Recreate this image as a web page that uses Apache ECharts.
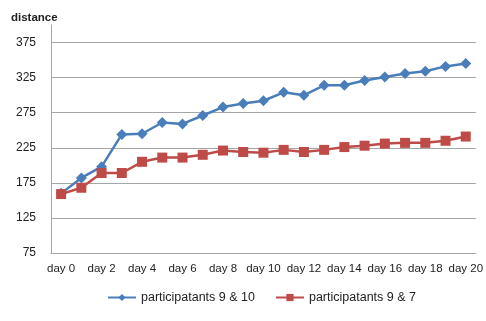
<!DOCTYPE html>
<html>
<head>
<meta charset="utf-8">
<style>
  html, body { margin: 0; padding: 0; background: #fff; }
  #chart { width: 486px; height: 321px; }
</style>
<script src="https://cdn.jsdelivr.net/npm/echarts@6/dist/echarts.min.js"></script>
</head>
<body>
<div id="chart"></div>
<script>
// Days on the x axis
const days = ['day 0','day 1','day 2','day 3','day 4','day 5','day 6','day 7','day 8','day 9','day 10',
              'day 11','day 12','day 13','day 14','day 15','day 16','day 17','day 18','day 19','day 20'];

// Distance covered by each pair of participants
const pair9and10 = [160, 182, 198, 244, 245, 261, 259, 271, 283, 288, 292, 304, 300, 314, 314, 321, 326, 331, 334, 341, 345];
const pair9and7  = [159, 168, 189, 189, 205, 211, 211, 215, 221, 219, 218, 222, 219, 222, 226, 228, 231, 232, 232, 235, 241];

const seriesNames = ['participatants 9 & 10', 'participatants 9 & 7'];
const yTitle = 'distance';

const font = 'Liberation Sans, Arial, sans-serif';
const chart = echarts.init(document.getElementById('chart'), null, { renderer: 'canvas' });

chart.setOption({
  animation: false,
  backgroundColor: '#fff',
  title: {
    text: yTitle,
    left: 6, top: 7,
    textStyle: { fontFamily: font, fontSize: 11.5, fontWeight: 'bold', color: '#222' }
  },
  grid: { left: 51, right: 9, top: 25, bottom: 68 },
  legend: {
    bottom: 12,
    left: 102,
    itemWidth: 28,
    itemHeight: 9,
    itemGap: 20,
    textStyle: { fontFamily: font, fontSize: 12.5, color: '#222' },
    data: seriesNames
  },
  xAxis: {
    type: 'category',
    data: days,
    boundaryGap: true,
    axisLine: { lineStyle: { color: '#a6a6a6', width: 1 } },
    axisTick: { show: false },
    axisLabel: { interval: 1, margin: 10, fontFamily: font, fontSize: 11.5, color: '#222' }
  },
  yAxis: {
    type: 'value',
    min: 75,
    max: 400,
    interval: 50,
    axisLine: { show: true, lineStyle: { color: '#a6a6a6', width: 1 } },
    axisTick: { show: false },
    axisLabel: { showMaxLabel: false, margin: 15, fontFamily: font, fontSize: 12, color: '#222' },
    splitLine: { showMaxLine: false, lineStyle: { color: '#a6a6a6', width: 1 } }
  },
  series: [
    {
      name: seriesNames[0],
      type: 'line',
      data: pair9and10,
      symbol: 'diamond',
      symbolSize: [11, 11],
      itemStyle: { color: '#4a7ebb' },
      lineStyle: { color: '#4a7ebb', width: 2.5 }
    },
    {
      name: seriesNames[1],
      type: 'line',
      data: pair9and7,
      symbol: 'rect',
      symbolSize: 10,
      itemStyle: { color: '#be4b48' },
      lineStyle: { color: '#be4b48', width: 2.5 }
    }
  ]
});
</script>
</body>
</html>
